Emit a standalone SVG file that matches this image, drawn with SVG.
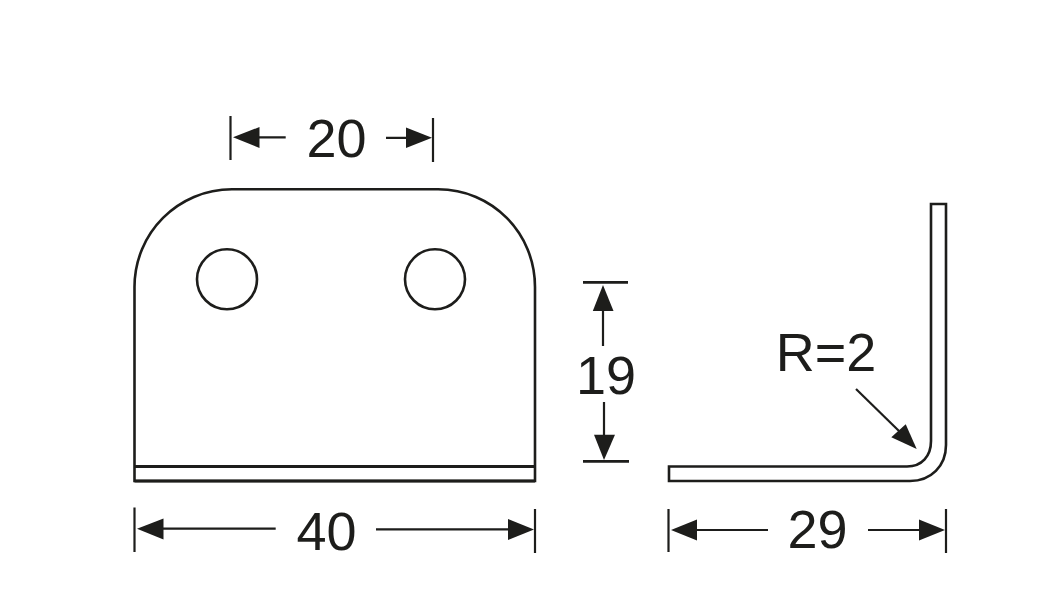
<svg xmlns="http://www.w3.org/2000/svg" width="1037" height="592" viewBox="0 0 1037 592">
<style>
.o{fill:#fff;stroke:#1d1d1b;stroke-width:2.6}
.b{fill:none;stroke:#1d1d1b;stroke-width:3}
.d{fill:none;stroke:#1d1d1b;stroke-width:2.2}
.t{stroke-width:2.8}
.a{fill:#1d1d1b;stroke:none}
text{font-family:"Liberation Sans",Arial,sans-serif;font-size:54px;fill:#1d1d1b;text-anchor:middle}
</style>
<rect width="1037" height="592" fill="#fff"/>
<g id="front-plate">
<path class="o" d="M134.500 481V287C134.500 233 178 189.300 232 189.300H438C492 189.300 535 233 535 287V481Z"/>
<path class="b" d="M134.500 466.500H535M134.500 481H535"/>
<circle class="o" cx="227" cy="279.300" r="30"/>
<circle class="o" cx="435" cy="279.300" r="30"/>
</g>
<g id="side-profile">
<path class="o" d="M669 466.500H907C922 466.500 931 456 931 441V204H946V445C946 466 931 481 910 481H669Z"/>
</g>
<g id="connectors">
<path class="d" d="M230.500 116V160M433 118V162M259 137.300H285.700M386 137.800H407"/>
<polygon class="a" points="233,137.300 259.500,127 259.500,148"/>
<polygon class="a" points="432,137.800 406,127.500 406,148"/>
<path class="d" d="M134.500 507.500V552M535 509V553M163 528.700H275.700M376 529.300H508"/>
<polygon class="a" points="137,528.700 163.500,518.500 163.500,539.500"/>
<polygon class="a" points="534,529.500 508,519 508,540"/>
<path class="d t" d="M583 282.300H628M583 461.300H629"/>
<path class="d" d="M603 310V346M604 402V435"/>
<polygon class="a" points="603,285 613.500,311 592.800,311"/>
<polygon class="a" points="604,460 594,434.700 615,434.700"/>
<path class="d" d="M668.500 509V552M946 509V553M697 530H768M868 530H919"/>
<polygon class="a" points="671,530 697,519.500 697,540.500"/>
<polygon class="a" points="945,530 919,519.500 919,540.500"/>
<path class="d" d="M856 389L899 431"/>
<polygon class="a" points="916.700,449 891.300,437.300 905.700,424.300"/>
</g>
<g id="labels">
<text x="336.500" y="157">20</text>
<text x="326.500" y="550">40</text>
<text x="606" y="394">19</text>
<text x="817.500" y="547.500">29</text>
<text x="826" y="371">R=2</text>
</g>
</svg>
